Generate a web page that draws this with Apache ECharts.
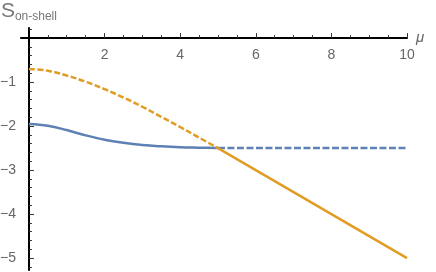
<!DOCTYPE html>
<html>
<head>
<meta charset="utf-8">
<script src="https://cdn.jsdelivr.net/npm/echarts@6/dist/echarts.min.js"></script>
<style>html,body{margin:0;padding:0;background:#fff}#c{width:436px;height:272px}</style>
</head>
<body>
<div id="c"></div>
<script>
// ---- data ----
const muHead = [0, 0.5, 1, 1.5, 2, 2.5, 3, 3.5, 4, 4.5, 5];
const blueHead = [-1.95, -1.99, -2.09, -2.21, -2.31, -2.38, -2.43, -2.46, -2.48, -2.49, -2.5];
const orangeHead = [-0.70, -0.74, -0.85, -0.99, -1.16, -1.35, -1.56, -1.79, -2.02, -2.26, -2.5];
const muTail = [5, 10];
const blueTail = [-2.5, -2.5];
const orangeTail = [-2.5, -5];
const xTicks = [2, 4, 6, 8, 10];
const xMinorTicks = [0.5, 1, 1.5, 2.5, 3, 3.5, 4.5, 5, 5.5, 6.5, 7, 7.5, 8.5, 9, 9.5];
const yTicks = [-1, -2, -3, -4, -5];
const yMinorTicks = [0.2, -0.2, -0.4, -0.6, -0.8, -1.2, -1.4, -1.6, -1.8, -2.2, -2.4, -2.6, -2.8,
  -3.2, -3.4, -3.6, -3.8, -4.2, -4.4, -4.6, -4.8, -5.2];
const xName = 'μ';
const yNameMain = 'S';
const yNameSub = 'on‑shell';

const pairs = (xs, ys) => xs.map((x, i) => [x, ys[i]]);
const blue = '#5e81b5', orange = '#e19c24';
const labelColor = '#666';
const font = 'Liberation Sans, Arial, sans-serif';

const chart = echarts.init(document.getElementById('c'), null, {renderer: 'canvas'});
const xRange = {min: -0.21, max: 10};
const yRange = {min: -5.27, max: 0.23};
chart.setOption({
  animation: false,
  grid: {left: 21, right: 29, top: 28, bottom: 2, containLabel: false, outerBoundsMode: 'none'},
  xAxis: [{
    type: 'value', ...xRange, position: 'bottom',
    axisLine: {onZero: true, lineStyle: {color: '#000', width: 2}},
    axisTick: {show: true, inside: true, length: 5, customValues: xTicks, lineStyle: {color: '#333', width: 1}},
    axisLabel: {show: false},
    splitLine: {show: false},
    name: xName, nameLocation: 'end', nameGap: 9,
    nameTextStyle: {color: labelColor, fontSize: 15, fontStyle: 'italic', fontFamily: font, padding: [0, 0, 6, 0]}
  }, {
    type: 'value', ...xRange, position: 'top',
    axisLine: {show: false, onZero: true},
    axisTick: {show: true, inside: false, length: 3, customValues: xMinorTicks, lineStyle: {color: '#333', width: 1}},
    axisLabel: {show: false}, splitLine: {show: false}
  }, {
    type: 'value', ...xRange, position: 'top',
    axisLine: {show: false, onZero: false},
    axisTick: {show: false},
    axisLabel: {show: true, inside: true, customValues: xTicks, margin: 20, color: labelColor, fontSize: 14, fontFamily: font,
      hideOverlap: false, alignMaxLabel: 'center', alignMinLabel: 'center',
      formatter: v => String(v)},
    splitLine: {show: false}
  }],
  yAxis: [{
    type: 'value', ...yRange, position: 'left',
    axisLine: {onZero: true, lineStyle: {color: '#000', width: 2}},
    axisTick: {show: true, inside: true, length: 5, customValues: yTicks, lineStyle: {color: '#333', width: 1}},
    axisLabel: {customValues: yTicks, margin: 5, color: labelColor, fontSize: 14, fontFamily: font,
      formatter: v => (v < 0 ? '\u2212' : '') + Math.abs(v)},
    splitLine: {show: false},
    name: '{s|' + yNameMain + '}{sub|' + yNameSub + '}', nameLocation: 'end', nameGap: 6,
    nameTextStyle: {
      rich: {
        s: {fontSize: 21, color: '#777', fontFamily: font, lineHeight: 20, verticalAlign: 'bottom'},
        sub: {fontSize: 12, color: '#777', fontFamily: font, lineHeight: 14, verticalAlign: 'bottom', padding: [0, 0, -1, 0]}
      }
    }
  }, {
    type: 'value', ...yRange, position: 'right',
    axisLine: {show: false, onZero: true},
    axisTick: {show: true, inside: false, length: 3, customValues: yMinorTicks, lineStyle: {color: '#333', width: 1}},
    axisLabel: {show: false}, splitLine: {show: false}
  }],
  series: [
    {type: 'line', data: pairs(muHead, blueHead), smooth: 0.4, showSymbol: false,
      lineStyle: {color: blue, width: 2.5}},
    {type: 'line', data: pairs(muTail, blueTail), showSymbol: false,
      lineStyle: {color: blue, width: 2.5, type: [7, 2.5]}},
    {type: 'line', data: pairs(muHead, orangeHead), smooth: 0.4, showSymbol: false,
      lineStyle: {color: orange, width: 2.5, type: [6, 2.5]}},
    {type: 'line', data: pairs(muTail, orangeTail), showSymbol: false,
      lineStyle: {color: orange, width: 2.5}}
  ]
});
</script>
</body>
</html>
